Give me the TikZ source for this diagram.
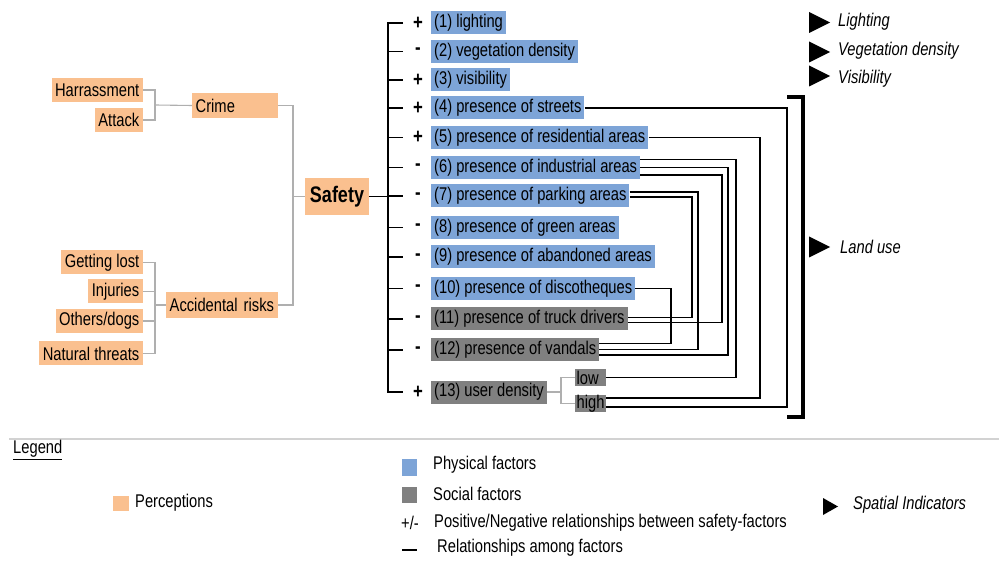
\documentclass[tikz,border=0pt]{standalone}
\usepackage{fontspec}
\setmainfont{Liberation Sans}[FakeStretch=0.8]
\usetikzlibrary{calc}
\definecolor{physblue}{RGB}{125,164,215}
\definecolor{percorange}{RGB}{250,192,143}
\definecolor{socgray}{RGB}{128,128,128}
\definecolor{linkgray}{RGB}{175,175,175}
\definecolor{rulegray}{RGB}{210,210,210}
\begin{document}
\begin{tikzpicture}[x=1pt,y=-1pt,
  every node/.style={font=\fontsize{18.4}{21}\selectfont, inner sep=0pt},
  perc/.style={fill=percorange, inner xsep=3.5pt, minimum height=24pt},
  phys/.style={fill=physblue, anchor=west, inner xsep=3pt, minimum height=23pt},
  soc/.style={fill=socgray, anchor=west, inner xsep=3pt, minimum height=23pt},
  level/.style={fill=socgray, anchor=west, inner xsep=1.5pt, text width=28pt, align=left, minimum height=17pt},
  sign/.style={font=\fontsize{21}{24}\selectfont\bfseries},
  lbl/.style={anchor=west},
  ind/.style={anchor=west, font=\fontsize{18.4}{21}\selectfont\itshape},
  treeline/.style={line width=1.8pt},
  rel/.style={line width=1.1pt},
  perclink/.style={draw=linkgray, line width=1.1pt},
  tri/.pic={\fill (0,-10.5) -- (21,0) -- (0,10.5) -- cycle;},
  smalltri/.pic={\fill (0,-8.5) -- (15,0) -- (0,8.5) -- cycle;}
]
\useasboundingbox (0,0) rectangle (999,561);

% ---------- perceptions ----------
\node[perc, anchor=east] (harr) at (143,90) {Harrassment};
\node[perc, anchor=east] (att) at (143,120) {Attack};
\node[perc, anchor=west, text width=79pt, align=left, minimum height=25pt] (crime) at (192,105.5) {Crime};
\node[perc, anchor=east] (lost) at (143,262.5) {Getting lost};
\node[perc, anchor=east] (inj) at (143,291.5) {Injuries};
\node[perc, anchor=east] (dogs) at (143,321) {Others/dogs};
\node[perc, anchor=east] (nat) at (143,353.5) {Natural threats};
\node[perc, anchor=west, text width=105pt, align=left, minimum height=26pt] (acc) at (166,305) {Accidental risks};
\node[perc, font=\fontsize{22.5}{26}\selectfont\bfseries, minimum width=64pt, minimum height=37pt] (safety) at (337,196.5) {Safety};

\draw[perclink] (harr.east) -| (155,105) |- (att.east);
\draw[perclink] (155,105) -- (crime.west);
\draw[perclink] (lost.east) -| (155,307) |- (nat.east);
\draw[perclink] (inj.east) -- (155,291.5);
\draw[perclink] (dogs.east) -- (155,321);
\draw[perclink] (155,305) -- (acc.west);
\draw[perclink] (crime.east) -| (293,196.5) |- (acc.east);
\draw[perclink] (293,196.5) -- (safety.west);

% ---------- factors ----------
\node[phys] (f1) at (431,23) {(1) lighting};
\node[phys] (f2) at (431,51.5) {(2) vegetation density};
\node[phys] (f3) at (431,80) {(3) visibility};
\node[phys] (f4) at (431,108) {(4) presence of streets};
\node[phys] (f5) at (431,137.5) {(5) presence of residential areas};
\node[phys] (f6) at (431,167.5) {(6) presence of industrial areas};
\node[phys] (f7) at (431,196) {(7) presence of parking areas};
\node[phys] (f8) at (431,227.5) {(8) presence of green areas};
\node[phys] (f9) at (431,257) {(9) presence of abandoned areas};
\node[phys] (f10) at (431,288.5) {(10) presence of discotheques};
\node[soc] (f11) at (431,319) {(11) presence of truck drivers};
\node[soc] (f12) at (431,350) {(12) presence of vandals};
\node[soc] (f13) at (431,392) {(13) user density};
\node[level] (low) at (575,377.5) {low};
\node[level] (high) at (575,403.5) {high};

\draw[perclink] (f13.east) -- (561,392);
\draw[perclink] (low.west) -| (561,392) |- (high.west);

% signs of the relationships
\foreach \n/\y/\s in {s1/23/+, s2/51.5/-, s3/80/+, s4/108/+, s5/137.5/+, s6/167.5/-,
                      s7/196/-, s8/227.5/-, s9/257/-, s10/288.5/-, s11/319/-, s12/350/-, s13/392/+}
  \node[sign] (\n) at (418,\y) {\s};

% tree from Safety to the factors
\draw[treeline] (403,23) -- (388,23) -- (388,392) -- (403,392);
\foreach \y in {51.5,80,108,137.5,167.5,196,227.5,257,288.5,319,350}
  \draw[treeline] (388,\y) -- (403,\y);
\draw[treeline] (safety.east) -- (388,196.5);

% relationships among factors
\draw[rel] (f4.east) -- (787,108) |- ([yshift=-3.5]high.east);
\draw[rel] (f5.east) -- (760,137.5) |- ([yshift=5.5]high.east);
\draw[rel] ([yshift=8]f6.east) -- (736,159.5) |- (low.east);
\draw[rel] (f6.east) -- (728,167.5) |- ([yshift=-5]f12.east);
\draw[rel] ([yshift=-7.5]f6.east) -- (722,175) |- ([yshift=-3.3]f11.east);
\draw[rel] ([yshift=4]f7.east) -- (698,192) |- ([yshift=0.7]f12.east);
\draw[rel] ([yshift=-1]f7.east) -- (692,197) |- ([yshift=1.3]f11.east);
\draw[rel] (f10.east) -- (671,288.5) |- ([yshift=6.7]f12.east);

% land-use bracket
\draw[line width=4pt] (787,97) -- (803,97) -- (803,417) -- (787,417);

% ---------- spatial indicators ----------
\pic at (809,22.5) {tri};
\node[ind] (i1) at (838,22) {Lighting};
\pic at (809,52) {tri};
\node[ind] (i2) at (838,50.5) {Vegetation density};
\pic at (809,76) {tri};
\node[ind] (i3) at (838,78.5) {Visibility};
\pic at (809,247) {tri};
\node[ind] (i4) at (840,247) {Land use};

% ---------- legend ----------
\draw[rulegray, line width=1.5pt] (9,439) -- (999,439);
\node[lbl] (leg) at (13,450) {\underline{Legend}};
\node[fill=percorange, minimum width=16pt, minimum height=15pt] (kperc) at (121,503.5) {};
\node[lbl] (tperc) at (135,503) {Perceptions};
\node[fill=physblue, minimum width=15pt, minimum height=17pt] (kphys) at (409.5,467.5) {};
\node[lbl] (tphys) at (433,465) {Physical factors};
\node[fill=socgray, minimum width=15pt, minimum height=16pt] (ksoc) at (409.5,495) {};
\node[lbl] (tsoc) at (433,494) {Social factors};
\node (kpm) at (410,523) {+/-};
\node[lbl] (tpm) at (434,523) {Positive/Negative relationships between safety-factors};
\coordinate (kl1) at (402,550);
\coordinate (kl2) at (417,550);
\draw[line width=2.5pt] (kl1) -- (kl2);
\node[lbl] (tl) at (437,548) {Relationships among factors};
\pic at (823,506.5) {smalltri};
\node[ind] (tsp) at (853,505) {Spatial Indicators};
\end{tikzpicture}
\end{document}
